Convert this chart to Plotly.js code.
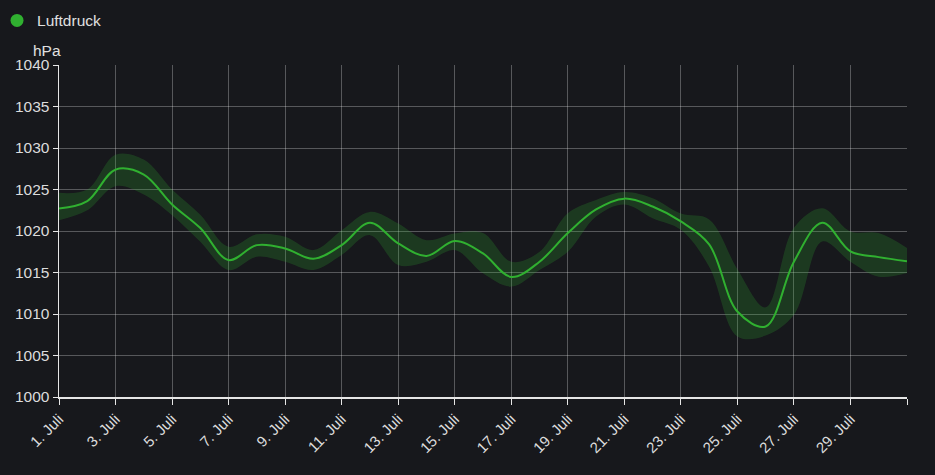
<!DOCTYPE html>
<html>
<head>
<meta charset="utf-8">
<script src="https://cdn.plot.ly/plotly-3.0.1.min.js"></script>
<style>
  html, body { margin: 0; padding: 0; background: #17181c; }
  #chart { width: 935px; height: 475px; }
</style>
</head>
<body>
<div id="chart"></div>
<script>
// Day of July (1 = 1. Juli)
const days = [1,2,3,4,5,6,7,8,9,10,11,12,13,14,15,16,17,18,19,20,21,22,23,24,25,26,27,28,29,30,31];
// Mean air pressure (hPa)
const pressureMean = [1022.7,1023.6,1027.4,1026.8,1023.2,1020.35,1016.5,1018.3,1017.9,1016.65,1018.3,1021.0,1018.5,1017.0,1018.8,1017.3,1014.45,1016.3,1019.75,1022.6,1023.9,1022.95,1021.15,1018.4,1010.3,1008.5,1016.3,1021.0,1017.55,1016.85,1016.35];
// Upper bound of the range band (hPa)
const pressureMax = [1024.6,1025.0,1029.2,1028.6,1025.0,1021.95,1018.1,1019.6,1019.3,1017.7,1020.1,1022.3,1020.9,1018.9,1019.7,1019.75,1016.3,1017.5,1022.15,1023.75,1024.7,1023.95,1022.1,1021.4,1015.4,1010.8,1020.4,1022.75,1019.95,1019.75,1017.95];
// Lower bound of the range band (hPa)
const pressureMin = [1021.3,1022.5,1025.4,1024.4,1021.9,1018.7,1015.3,1016.9,1016.3,1015.3,1017.1,1019.5,1015.9,1016.3,1017.7,1014.9,1013.3,1015.3,1017.5,1021.75,1023.2,1021.55,1020.15,1015.7,1007.3,1007.4,1009.9,1018.75,1016.3,1014.5,1014.95];
// X tick positions and labels
const tickDays = [1,3,5,7,9,11,13,15,17,19,21,23,25,27,29,31];
const tickLabels = ["1. Juli","3. Juli","5. Juli","7. Juli","9. Juli","11. Juli","13. Juli","15. Juli","17. Juli","19. Juli","21. Juli","23. Juli","25. Juli","27. Juli","29. Juli",""];
const seriesName = "Luftdruck";
const unitLabel = "hPa";

const green = "#30b030";
const font = "Arimo, 'Liberation Sans', Arial, sans-serif";

const traces = [
  { x: days, y: pressureMin, type: "scatter", mode: "lines",
    line: { width: 0, shape: "spline", smoothing: 1 }, hoverinfo: "skip", showlegend: false },
  { x: days, y: pressureMax, type: "scatter", mode: "lines", fill: "tonexty",
    fillcolor: "rgba(48,176,48,0.22)",
    line: { width: 0, shape: "spline", smoothing: 1 }, hoverinfo: "skip", showlegend: false },
  { x: days, y: pressureMean, type: "scatter", mode: "lines", name: seriesName,
    line: { color: green, width: 2, shape: "spline", smoothing: 1 }, showlegend: false },
  { x: [null], y: [null], type: "scatter", mode: "markers", name: seriesName,
    marker: { color: green, size: 13, symbol: "circle" }, showlegend: true }
];

const gridColor = "rgba(255,255,255,0.28)";
const layout = {
  width: 935, height: 475,
  paper_bgcolor: "#17181c", plot_bgcolor: "#17181c",
  margin: { l: 59, r: 28, t: 65, b: 78, autoexpand: false },
  font: { family: font, color: "#dcdcdc", size: 15 },
  showlegend: true,
  legend: { xref: "paper", yref: "container", x: -0.0731, y: 0.992, xanchor: "left", yanchor: "top",
            font: { size: 15.5, color: "#e0e0e0" }, bgcolor: "rgba(0,0,0,0)", itemwidth: 30 },
  xaxis: {
    range: [1, 31], tickmode: "array", tickvals: tickDays, ticktext: tickLabels,
    tickangle: -45, tickfont: { size: 15, color: "#dcdcdc" }, automargin: false,
    showgrid: true, gridcolor: gridColor, gridwidth: 1,
    showline: true, linecolor: "#e6e6e6", linewidth: 1.5,
    ticks: "outside", ticklen: 6, tickcolor: "#e6e6e6", zeroline: false
  },
  yaxis: {
    range: [1000, 1040], dtick: 5, tick0: 1000, automargin: false,
    tickfont: { size: 15.5, color: "#dcdcdc" },
    showgrid: true, gridcolor: gridColor, gridwidth: 1,
    showline: true, linecolor: "#e6e6e6", linewidth: 1.5,
    ticks: "outside", ticklen: 5, tickcolor: "#e6e6e6", zeroline: false
  },
  annotations: [
    { text: unitLabel, xref: "paper", yref: "paper", x: 0, y: 1, xanchor: "left", yanchor: "bottom",
      xshift: -28, yshift: 4, showarrow: false, font: { size: 15.5, color: "#e0e0e0" } }
  ]
};

Plotly.newPlot("chart", traces, layout, { displayModeBar: false, staticPlot: true });
</script>
</body>
</html>
